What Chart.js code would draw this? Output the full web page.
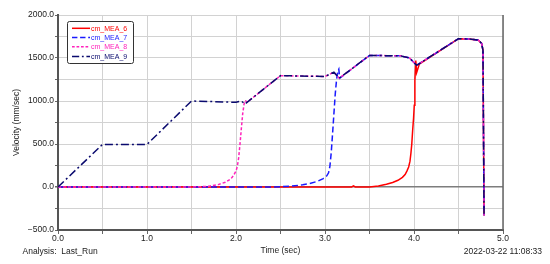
<!DOCTYPE html>
<html>
<head>
<meta charset="utf-8">
<script src="https://cdn.jsdelivr.net/npm/chart.js@4.4.1/dist/chart.umd.min.js"></script>
<style>
  html, body { margin: 0; padding: 0; background: #ffffff; }
  #wrap { width: 550px; height: 264px; position: relative; }
</style>
</head>
<body>
<div id="wrap"><canvas id="c" width="550" height="264"></canvas></div>
<script>
// ---- Data ----
const seriesNames = ["cm_MEA_6", "cm_MEA_7", "cm_MEA_8", "cm_MEA_9"];

// cm_MEA_6 (red, solid)
const t6 = [0, 3.3, 3.32, 3.34, 3.5, 3.6, 3.69, 3.76, 3.82, 3.87, 3.9, 3.92, 3.94, 3.955, 3.965, 3.975, 3.985, 3.995, 4.003, 4.01, 4.02, 4.03, 4.06, 4.5, 4.6, 4.72, 4.76, 4.775, 4.787];
const v6 = [0, 0, 12, 0, 0, 12, 31, 52, 78, 112, 145, 185, 233, 300, 389, 500, 660, 800, 950, 1240, 1470, 1330, 1430, 1725, 1722, 1710, 1670, 1590, -330];

// cm_MEA_7 (blue, dashed)
const t7 = [0, 2.4, 2.6, 2.75, 2.83, 2.92, 2.98, 3.02, 3.04, 3.055, 3.07, 3.085, 3.1, 3.115, 3.13, 3.145, 3.155, 3.165, 3.5, 3.85, 3.95, 4.03, 4.5, 4.6, 4.72, 4.76, 4.775, 4.787];
const v7 = [0, 0, 8, 25, 40, 68, 98, 130, 165, 240, 400, 620, 850, 1080, 1250, 1350, 1370, 1265, 1530, 1525, 1500, 1415, 1725, 1722, 1710, 1670, 1590, -330];

// cm_MEA_8 (magenta, short dash)
const t8 = [0, 1.5, 1.62, 1.7, 1.8, 1.88, 1.94, 1.97, 2.0, 2.015, 2.03, 2.045, 2.06, 2.075, 2.09, 2.1, 2.13, 2.5, 3.0, 3.1, 3.16, 3.5, 3.85, 3.95, 4.03, 4.5, 4.6, 4.72, 4.76, 4.775, 4.787];
const v8 = [0, 0, 4, 10, 28, 55, 92, 130, 185, 240, 340, 500, 680, 850, 960, 1005, 990, 1295, 1285, 1335, 1265, 1530, 1525, 1500, 1415, 1725, 1722, 1710, 1670, 1590, -330];

// cm_MEA_9 (navy, dash-dot)
const t9 = [0, 0.5, 1.0, 1.5, 2.0, 2.06, 2.1, 2.5, 3.0, 3.1, 3.16, 3.5, 3.85, 3.95, 4.03, 4.5, 4.6, 4.72, 4.76, 4.775, 4.787];
const v9 = [0, 495, 495, 1000, 985, 1000, 965, 1295, 1285, 1335, 1265, 1530, 1525, 1500, 1415, 1725, 1722, 1710, 1670, 1590, -330];

const xTickLabels = ["0.0", "1.0", "2.0", "3.0", "4.0", "5.0"];
const yTickLabels = ["\u2212500.0", "0.0", "500.0", "1000.0", "1500.0", "2000.0"];
const xTitle = "Time (sec)";
const yTitle = "Velocity (mm/sec)";
const footLeft = "Analysis:  Last_Run";
const footRight = "2022-03-22 11:08:33";

// ---- Styles ----
const colors = ["#ff0000", "#1a1aff", "#ff22bb", "#0a0a6e"];
const dashes = [[], [6, 3], [3, 2], [8, 3, 2, 3]];
const FONT = "Arial, 'Liberation Sans', sans-serif";

function pts(t, v) { return t.map((x, i) => ({ x: x, y: v[i] })); }
const tv = [[t6, v6], [t7, v7], [t8, v8], [t9, v9]];

const datasets = seriesNames.map((name, i) => ({
  label: name,
  data: pts(tv[i][0], tv[i][1]),
  borderColor: colors[i],
  backgroundColor: colors[i],
  borderWidth: 1.5,
  borderDash: dashes[i],
  pointRadius: 0,
  tension: 0,
  fill: false,
  order: 3 - i
}));

const overlay = {
  id: 'overlay',
  afterDraw(chart) {
    const ctx = chart.ctx;
    const a = chart.chartArea;
    ctx.save();
    // right frame line
    ctx.strokeStyle = '#666';
    ctx.lineWidth = 1.5;
    ctx.beginPath();
    ctx.moveTo(a.right, a.top);
    ctx.lineTo(a.right, a.bottom);
    ctx.stroke();

    // legend box
    const bx = 67, by = 21, bw = 66, bh = 42;
    ctx.fillStyle = '#ffffff';
    ctx.strokeStyle = '#333';
    ctx.lineWidth = 1;
    ctx.beginPath();
    if (ctx.roundRect) ctx.roundRect(bx + 0.5, by + 0.5, bw, bh, 2); else ctx.rect(bx + 0.5, by + 0.5, bw, bh);
    ctx.fill();
    ctx.stroke();
    ctx.font = "7px " + FONT;
    ctx.textBaseline = 'middle';
    ctx.textAlign = 'left';
    const rowsY = [28.3, 37.5, 46.8, 56.5];
    seriesNames.forEach((n, i) => {
      const y = rowsY[i];
      ctx.strokeStyle = colors[i];
      ctx.lineWidth = 1.5;
      ctx.setLineDash(dashes[i].map(d => d * 0.9));
      ctx.beginPath();
      ctx.moveTo(72, y);
      ctx.lineTo(90, y);
      ctx.stroke();
      ctx.setLineDash([]);
      ctx.fillStyle = colors[i];
      ctx.fillText(n, 91, y + 0.5);
    });

    // footer texts
    ctx.fillStyle = '#222';
    ctx.font = "8.5px " + FONT;
    ctx.textBaseline = 'middle';
    ctx.textAlign = 'left';
    ctx.fillText(footLeft, 22.5, 251.5);
    ctx.textAlign = 'right';
    ctx.fillText(footRight, 542, 251.5);
    ctx.restore();
  }
};

new Chart(document.getElementById('c'), {
  type: 'line',
  data: { datasets: datasets },
  options: {
    responsive: false,
    animation: false,
    events: [],
    layout: { padding: { left: 0, right: 47, top: 15, bottom: 0 } },
    plugins: { legend: { display: false }, tooltip: { enabled: false } },
    scales: {
      x: {
        type: 'linear',
        min: 0, max: 5,
        afterFit: s => { s.height = 34; },
        ticks: {
          stepSize: 0.5,
          autoSkip: false,
          maxRotation: 0,
          padding: 0,
          color: '#222',
          font: { size: 8.5, family: FONT },
          callback: v => {
            const i = Math.round(v);
            return Math.abs(v - i) < 1e-6 ? xTickLabels[i] : '';
          }
        },
        grid: { color: '#d2d2d2', lineWidth: 1, tickLength: 4, tickColor: '#666' },
        border: { color: '#555', width: 2 },
        title: {
          display: true, text: xTitle, color: '#222',
          font: { size: 8.5, family: FONT },
          padding: { top: 0, bottom: 8 }
        }
      },
      y: {
        type: 'linear',
        min: -500, max: 2000,
        afterFit: s => { s.width = 58; },
        ticks: {
          stepSize: 250,
          autoSkip: false,
          padding: 1,
          color: '#222',
          font: { size: 8.5, family: FONT },
          callback: v => {
            if (Math.abs(v % 500) > 1e-6) return '';
            return yTickLabels[Math.round((v + 500) / 500)];
          }
        },
        grid: {
          color: c => (c.tick && c.tick.value === 0) ? '#7d7d7d' : '#d2d2d2',
          lineWidth: c => (c.tick && c.tick.value === 0) ? 1.5 : 1,
          tickLength: 3, tickColor: '#666'
        },
        border: { color: '#555', width: 2 },
        title: {
          display: true, text: yTitle, color: '#222',
          font: { size: 8.5, family: FONT },
          padding: { top: 12, bottom: 0 }
        }
      }
    }
  },
  plugins: [overlay]
});
</script>
</body>
</html>
